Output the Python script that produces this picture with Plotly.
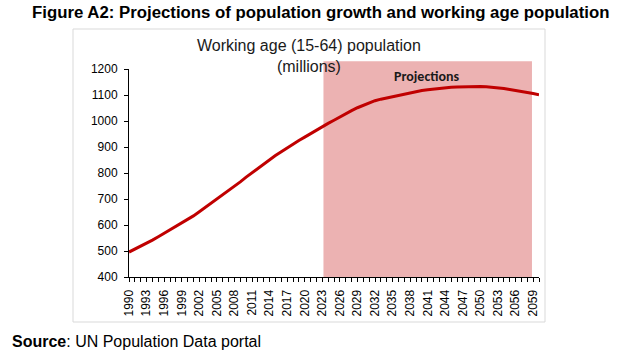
import plotly.graph_objects as go

# ---- data ----
years = list(range(1990, 2061))
working_age_pop = [
    496, 507, 519, 530, 542, 555, 568, 581, 595, 608,   # 1990-1999
    622, 635, 651, 667, 683, 699, 715, 731, 749, 766,   # 2000-2009
    784, 801, 819, 836, 852, 867, 882, 897, 911, 925,   # 2010-2019
    938, 952, 965, 978, 991, 1003, 1016, 1029, 1040, 1051,  # 2020-2029
    1061, 1070, 1078, 1084, 1089, 1094, 1099, 1104, 1109, 1113,  # 2030-2039
    1117, 1120, 1123, 1126, 1128, 1130, 1131, 1132, 1133, 1133,  # 2040-2049
    1133, 1132, 1130, 1128, 1125, 1121, 1118, 1114, 1110, 1106,  # 2050-2059
    1101,  # 2060
]
x_tick_years = list(range(1990, 2060, 3))
x_tick_labels = [str(y) for y in x_tick_years]
y_tick_vals = list(range(400, 1201, 100))

projection_start = 2023.2
projection_end = 2058.8
projection_top = 1230
y_min, y_max = 400, 1200

# ---- layout geometry (pixels) ----
W, H = 637, 351
L, R, T, B = 129, 98, 69, 74
pw, ph = W - L - R, H - T - B


def px_x(p):
    return (p - L) / pw


def px_y(p):
    return (H - B - p) / ph


fig = go.Figure()

fig.add_trace(go.Scatter(
    x=years, y=working_age_pop, mode="lines",
    line=dict(color="#C00000", width=3),
    hoverinfo="x+y", showlegend=False,
))

# projection shading (x in data, y top above plot area)
fig.add_shape(
    type="rect", xref="x", yref="paper",
    x0=projection_start, x1=projection_end,
    y0=0, y1=(projection_top - y_min) / (y_max - y_min),
    fillcolor="#ECB2B2", line=dict(width=0), layer="below",
)

# chart frame
fig.add_shape(
    type="rect", xref="paper", yref="paper",
    x0=px_x(73), x1=px_x(545), y0=px_y(322), y1=px_y(29),
    line=dict(color="#D9D9D9", width=1), fillcolor="rgba(0,0,0,0)",
)

font_main = "Arial, Liberation Sans, sans-serif"

fig.add_annotation(
    text="<b>Figure A2: Projections of population growth and working age population</b>",
    xref="paper", yref="paper", x=px_x(320), y=px_y(12),
    showarrow=False, font=dict(family=font_main, size=16.8, color="#000000"),
    xanchor="center", yanchor="middle",
)
fig.add_annotation(
    text="Working age (15-64) population<br>(millions)",
    xref="paper", yref="paper", x=px_x(309), y=px_y(56),
    showarrow=False, font=dict(family=font_main, size=16, color="#1a1a1a"),
    xanchor="center", yanchor="middle", align="center",
)
fig.add_annotation(
    text="<b>Projections</b>",
    xref="paper", yref="paper", x=px_x(427), y=px_y(76),
    showarrow=False, font=dict(family="Carlito, Calibri, Lato, sans-serif", size=14, color="#1a1a1a"),
    xanchor="center", yanchor="middle",
)
fig.add_annotation(
    text="<b>Source</b>: UN Population Data portal",
    xref="paper", yref="paper", x=px_x(10), y=px_y(341),
    showarrow=False, font=dict(family=font_main, size=16, color="#000000"),
    xanchor="left", yanchor="middle",
)

fig.update_layout(
    width=W, height=H, autosize=False,
    margin=dict(l=L, r=R, t=T, b=B, pad=0),
    paper_bgcolor="white", plot_bgcolor="white",
    font=dict(family=font_main, size=12, color="#000000"),
    showlegend=False,
)
fig.update_xaxes(
    range=[1990, 2060], tickmode="array", tickvals=x_tick_years, ticktext=x_tick_labels,
    tickangle=-90, ticks="outside", ticklen=4, tickcolor="black",
    minor=dict(dtick=1, tick0=1990, ticks="outside", ticklen=4, tickcolor="black"),
    showline=True, linecolor="black", linewidth=1, showgrid=False, zeroline=False,
    tickfont=dict(size=12), ticklabelstandoff=3,
)
fig.update_yaxes(
    range=[y_min, y_max], tickmode="array", tickvals=y_tick_vals,
    ticks="outside", ticklen=4, tickcolor="black",
    showline=True, linecolor="black", linewidth=1, showgrid=False, zeroline=False,
    tickfont=dict(size=12), ticklabelstandoff=4,
)

fig.write_html("out.html")
